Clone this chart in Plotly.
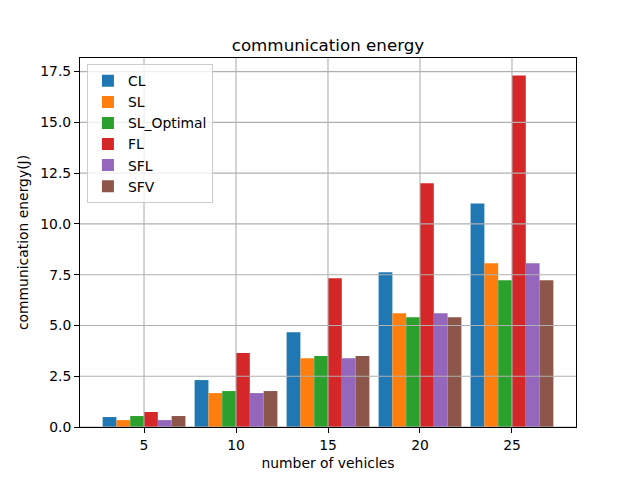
import plotly.graph_objects as go

vehicles = [5, 10, 15, 20, 25]
series_names = ["CL", "SL", "SL_Optimal", "FL", "SFL", "SFV"]
cl = [0.49, 2.31, 4.67, 7.62, 11.01]
sl = [0.34, 1.67, 3.39, 5.60, 8.06]
sl_optimal = [0.54, 1.77, 3.49, 5.41, 7.23]
fl = [0.74, 3.64, 7.33, 12.00, 17.31]
sfl = [0.34, 1.67, 3.39, 5.60, 8.06]
sfv = [0.54, 1.77, 3.49, 5.41, 7.23]
y_ticks = [0, 2.5, 5.0, 7.5, 10.0, 12.5, 15.0, 17.5]
y_tick_labels = ["0.0", "2.5", "5.0", "7.5", "10.0", "12.5", "15.0", "17.5"]

colors = ["#1f77b4", "#ff7f0e", "#2ca02c", "#d62728", "#9467bd", "#8c564b"]
values = [cl, sl, sl_optimal, fl, sfl, sfv]

font = "DejaVu Sans"
fs = 13.9
fig = go.Figure()
for name, vals, c in zip(series_names, values, colors):
    fig.add_trace(go.Bar(x=vehicles, y=vals, name=name, marker=dict(color=c, line=dict(width=0))))

grid_color = "#b0b0b0"
shapes = []
for t in y_ticks:
    shapes.append(dict(type="line", xref="paper", yref="y", x0=0, x1=1, y0=t, y1=t,
                       line=dict(color=grid_color, width=1.1), layer="above"))
for v in vehicles:
    shapes.append(dict(type="line", xref="x", yref="paper", x0=v, x1=v, y0=0, y1=1,
                       line=dict(color=grid_color, width=1.1), layer="above"))

fig.update_layout(
    width=640, height=480,
    margin=dict(l=72, r=72, t=50, b=61),
    paper_bgcolor="white", plot_bgcolor="white",
    barmode="group", bargap=0.1, bargroupgap=0,
    font=dict(family=font, size=fs, color="black"),
    title=dict(text="communication energy", x=0.5, xanchor="center", y=0.922, yanchor="middle",
               font=dict(size=16.7, family=font)),
    shapes=shapes,
    legend=dict(x=0.014, y=0.983, xanchor="left", yanchor="top",
                bgcolor="rgba(255,255,255,0.8)", bordercolor="#cccccc", borderwidth=1,
                font=dict(size=fs, family=font), tracegroupgap=0, itemwidth=30),
    xaxis=dict(range=[1.52, 28.48], tickvals=vehicles, ticktext=[str(v) for v in vehicles],
               tickfont=dict(size=fs),
               showgrid=False, zeroline=False, showline=True, linecolor="black", linewidth=1,
               mirror=True, ticks="outside", ticklen=5, tickcolor="black",
               title=dict(text="number of vehicles", standoff=6, font=dict(size=fs))),
    yaxis=dict(range=[0, 18.17], tickvals=y_ticks, ticktext=y_tick_labels,
               tickfont=dict(size=fs),
               showgrid=False, zeroline=False, showline=True, linecolor="black", linewidth=1,
               mirror=True, ticks="outside", ticklen=5, tickcolor="black",
               title=dict(text="communication energy(J)", standoff=8, font=dict(size=fs))),
)

fig.write_html("out.html")
